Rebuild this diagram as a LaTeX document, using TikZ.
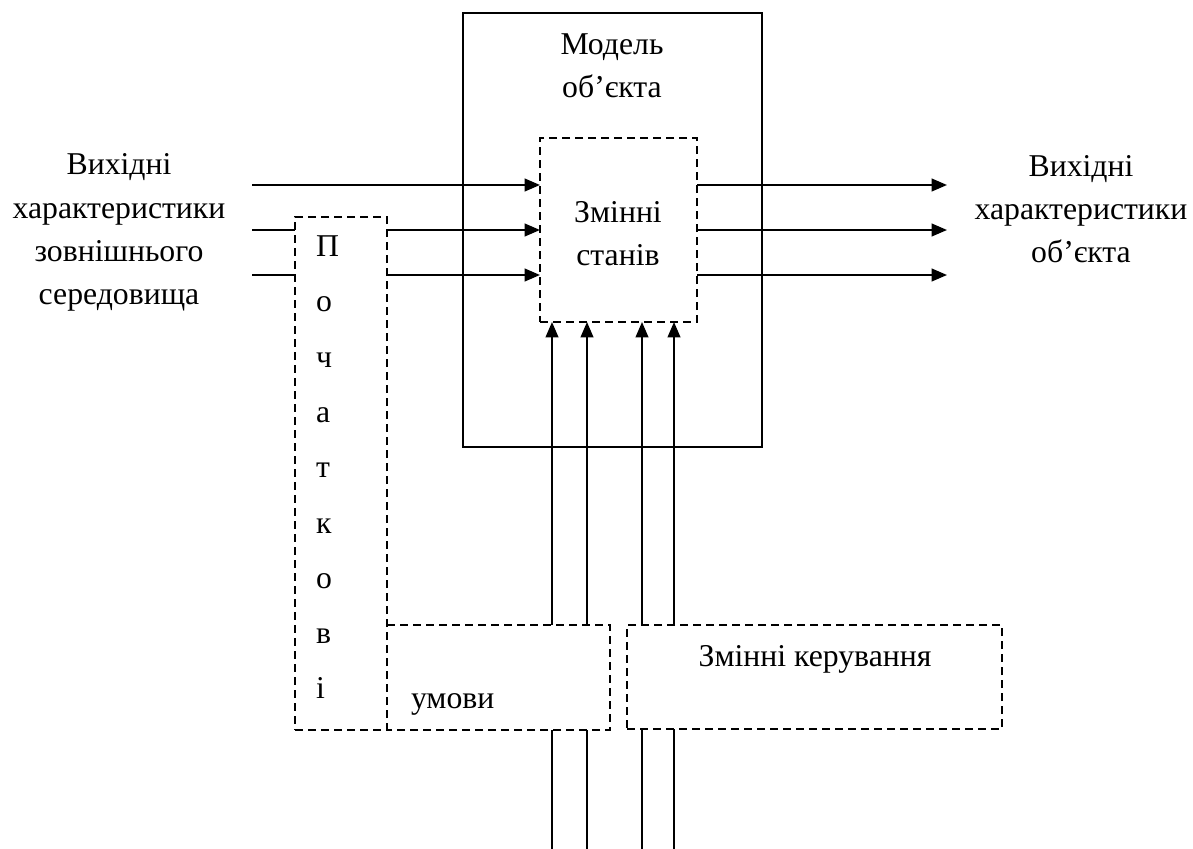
\documentclass[tikz,border=0pt]{standalone}
\usepackage{fontspec}
\setmainfont{Liberation Serif}
\usetikzlibrary{arrows.meta}
\begin{document}
\begin{tikzpicture}[x=0.75pt,y=-0.75pt,
  every node/.style={inner sep=0pt, outer sep=0pt, font=\fontsize{23.8}{32}\selectfont},
  lbl/.style={anchor=base},
  solidbox/.style={draw, line width=1.5pt},
  dashbox/.style={draw, line width=1.4pt, dash pattern=on 6pt off 3.75pt},
  dashline/.style={line width=1.4pt, dash pattern=on 6pt off 3.75pt},
  conn/.style={line width=1.5pt},
  arr/.style={line width=1.5pt, -{Triangle[length=11.5pt,width=9.5pt]}}]
\useasboundingbox (0,0) rectangle (1193,849);
% boxes
\node[solidbox, minimum width=224.25pt, minimum height=325.5pt] (model) at (612.5,230) {};
\node[dashbox, minimum width=117.75pt, minimum height=138pt] (state) at (618.5,230) {};
\node[dashbox, minimum width=69pt, minimum height=384.75pt] (init) at (341,473.5) {};
\node[minimum width=167.25pt, minimum height=78.75pt] (cond) at (498.5,677.5) {};
\draw[dashline] (cond.north west) -- (cond.north east) -- (cond.south east) -- (cond.south west);
\node[dashbox, minimum width=281.25pt, minimum height=78pt] (ctrl) at (814.5,677) {};
% texts
\node[lbl] (t1) at (612,55) {Модель};
\node[lbl] (t2) at (612,98) {об’єкта};
\node[lbl] (t3) at (618,222) {Змінні};
\node[lbl] (t4) at (618,265) {станів};
\node[lbl] (l1) at (119,175) {Вихідні};
\node[lbl] (l2) at (119,218) {характеристики};
\node[lbl] (l3) at (119,261) {зовнішнього};
\node[lbl] (l4) at (119,304) {середовища};
\node[lbl] (r1) at (1081,176) {Вихідні};
\node[lbl] (r2) at (1081,219) {характеристики};
\node[lbl] (r3) at (1081,262) {об’єкта};
\foreach \ch/\yy in {П/256,о/311,ч/367,а/422,т/477,к/533,о/588,в/643,і/698}
  \node[anchor=base west] at (316,\yy) {\ch};
\node[anchor=base west] (tc) at (411,708) {умови};
\node[lbl] (tk) at (815,666) {Змінні керування};
% input connectors
\coordinate (in1) at (252,185);
\coordinate (in2) at (252,230);
\coordinate (in3) at (252,275);
\draw[arr] (in1) -- (in1 -| state.west);
\draw[conn] (in2) -- (in2 -| init.west);
\draw[conn] (in3) -- (in3 -| init.west);
\draw[arr] (in2 -| init.east) -- (in2 -| state.west);
\draw[arr] (in3 -| init.east) -- (in3 -| state.west);
% output connectors
\coordinate (out1) at (947,185);
\coordinate (out2) at (947,230);
\coordinate (out3) at (947,275);
\draw[arr] (out1 -| state.east) -- (out1);
\draw[arr] (out2 -| state.east) -- (out2);
\draw[arr] (out3 -| state.east) -- (out3);
% vertical connectors
\coordinate (b1) at (552,849);
\coordinate (b2) at (587,849);
\coordinate (b3) at (642,849);
\coordinate (b4) at (674,849);
\draw[conn] (b1) -- (b1 |- cond.south);
\draw[conn] (b2) -- (b2 |- cond.south);
\draw[conn] (b3) -- (b3 |- ctrl.south);
\draw[conn] (b4) -- (b4 |- ctrl.south);
\draw[arr] (b1 |- cond.north) -- (b1 |- state.south);
\draw[arr] (b2 |- cond.north) -- (b2 |- state.south);
\draw[arr] (b3 |- ctrl.north) -- (b3 |- state.south);
\draw[arr] (b4 |- ctrl.north) -- (b4 |- state.south);
\end{tikzpicture}
\end{document}
